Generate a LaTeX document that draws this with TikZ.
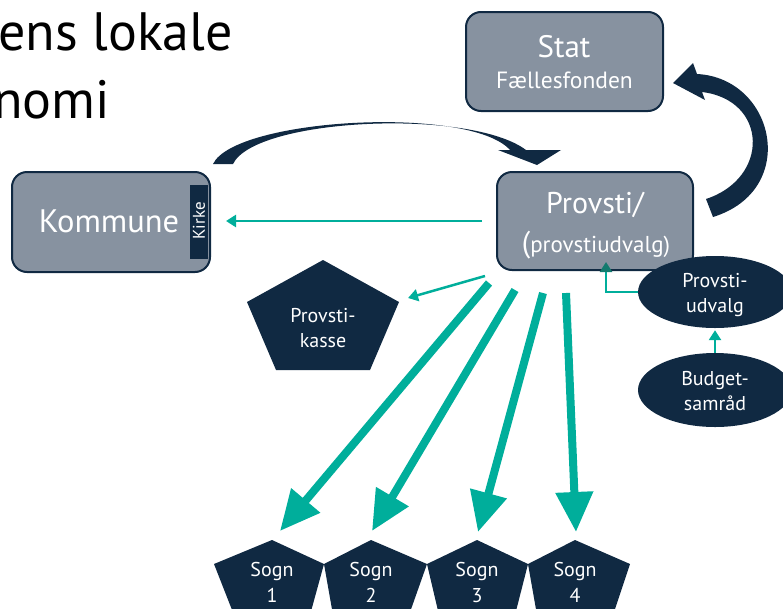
\documentclass[tikz,border=0pt]{standalone}
\usepackage{fontspec}
\setmainfont{PT Sans}
\usetikzlibrary{arrows.meta,shapes.geometric}
\definecolor{navy}{HTML}{102942}
\definecolor{boxgray}{HTML}{8792A0}
\definecolor{tealc}{HTML}{00AE9B}
\definecolor{tipteal}{HTML}{127A6E}
\tikzset{
  box/.style={draw=navy, line width=2pt, fill=boxgray, rounded corners=15pt, inner sep=0pt},
  wtext/.style={text=white, inner sep=0pt, anchor=base},
  thickarrow/.style={draw=tealc, line width=8pt, -{Triangle[length=40pt,width=36pt]}},
  thinarrow/.style={draw=tealc, line width=2.5pt, -{Triangle[length=10pt,width=12pt]}},
  darkfill/.style={fill=navy},
  oval/.style={ellipse, fill=navy, inner sep=0pt},
  small/.style={font=\fontsize{20}{20}\selectfont},
}
\begin{document}
\begin{tikzpicture}[x=1pt,y=-1pt]
\useasboundingbox (0,0) rectangle (783,608);
\clip (0,0) rectangle (783,608);

% title (cut off at the left edge, as in the reference)
\node[anchor=base west, inner sep=0pt, font=\fontsize{54}{54}\selectfont] (title1) at (-2,50) {ens lokale};
\node[anchor=base west, inner sep=0pt, font=\fontsize{54}{54}\selectfont] (title2) at (-7,118) {nomi};

% curved dark arrows
\fill[darkfill] (213,164) .. controls (235,118) and (470,105) .. (510,150)
  -- (498,150) -- (537,165) -- (561,150) -- (526,150)
  .. controls (470,108) and (255,118) .. (233,164) -- cycle;
\fill[darkfill] (706,199) .. controls (770,178) and (768,100) .. (702,92)
  -- (705,100) -- (673,83) -- (693,63) -- (697,74)
  .. controls (775,78) and (800,190) .. (713,217) -- cycle;

% boxes
\node[box, minimum width=197pt, minimum height=99pt] (stat) at (564.5,61.5) {};
\node[box, minimum width=196pt, minimum height=98pt] (provsti) at (595,221) {};
\node[box, minimum width=198pt, minimum height=100pt] (kommune) at (111,222) {};
\node[fill=navy, minimum width=18pt, minimum height=74pt, inner sep=0pt] (kirkebar) at (199,222) {};
\node[rotate=90, text=white, font=\fontsize{17}{17}\selectfont, inner sep=0pt] (kirke) at (199,221) {Kirke};

\node[wtext, font=\fontsize{31}{31}\selectfont] (statT) at (564,57) {Stat};
\node[wtext, font=\fontsize{23.5}{23.5}\selectfont] (fondT) at (564.5,88) {Fællesfonden};
\node[wtext, font=\fontsize{30}{30}\selectfont] (provT) at (595,213) {Provsti/};
\node[wtext, font=\fontsize{23}{23}\selectfont] (pudvT) at (596,252) {{\fontsize{30}{30}\selectfont(}provstiudvalg)};
\node[wtext, font=\fontsize{32.5}{32.5}\selectfont] (komT) at (109,232) {Kommune};

% teal arrows
\draw[thinarrow, shorten <=14pt, shorten >=15pt] (provsti.west) -- (provsti.west -| kommune.east);
\coordinate (kasseS) at (485,276);
\coordinate (kasseT) at (408,298);
\draw[thinarrow] (kasseS) -- (kasseT);

\coordinate (s1) at (489,283); \coordinate (t1) at (280,531);
\coordinate (s2) at (515,290); \coordinate (t2) at (372,531);
\coordinate (s3) at (543,293); \coordinate (t3) at (478,532);
\coordinate (s4) at (566,293); \coordinate (t4) at (576,532);
\draw[thickarrow] (s1) -- (t1);
\draw[thickarrow] (s2) -- (t2);
\draw[thickarrow] (s3) -- (t3);
\draw[thickarrow] (s4) -- (t4);

% Provsti-kasse pentagon
\fill[darkfill] (323,260) -- (399,302) -- (370,370) -- (276,370) -- (247,302) -- cycle;
\node[wtext, small] (kasse1) at (323,322) {Provsti-};
\node[wtext, small] (kasse2) at (323,347) {kasse};

% Sogn pentagons
\foreach \cx/\l/\r/\n in {272/214/324/1, 371/324/427/2, 477/427/528/3, 575/528/630/4}{
  \fill[darkfill] (\cx,540) -- (\r,564) -- ({\cx+38},615) -- ({\cx-38},615) -- (\l,564) -- cycle;
  \node[wtext, small] (sognA\n) at (\cx,576) {Sogn};
  \node[wtext, small] (sognB\n) at (\cx,602) {\n};
}

% ellipses
\node[oval, minimum width=154pt, minimum height=72pt] (pudv) at (715,292) {};
\node[oval, minimum width=154pt, minimum height=74pt] (budget) at (715,390) {};
\node[wtext, small] (pudv1) at (715,287) {Provsti-};
\node[wtext, small] (pudv2) at (715,312) {udvalg};
\node[wtext, small] (budget1) at (715,385) {Budget-};
\node[wtext, small] (budget2) at (715,410) {samråd};

\draw[thinarrow, shorten >=2pt] (budget.north) -- (pudv.south);
\coordinate (elbowT) at (606,262);
\draw[draw=tealc, line width=2.5pt, -{Triangle[length=10pt,width=12pt,color=tipteal]}] (pudv.west) -| (elbowT);
\end{tikzpicture}
\end{document}
